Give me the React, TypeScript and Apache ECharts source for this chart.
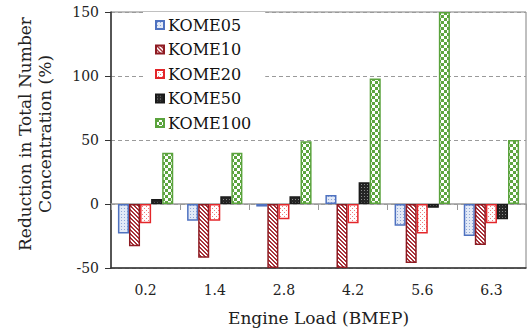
import React, { useEffect, useRef } from "react";
import * as echarts from "echarts";

const categories = ["0.2", "1.4", "2.8", "4.2", "5.6", "6.3"];
const seriesNames = ["KOME05", "KOME10", "KOME20", "KOME50", "KOME100"];
const kome05 = [-23, -13, -2, 7, -17, -25];
const kome10 = [-33, -42, -50, -50, -46, -32];
const kome20 = [-15, -13, -12, -15, -23, -15];
const kome50 = [4, 6, 6, 17, -3, -12];
const kome100 = [40, 40, 49, 98, 150, 50];
const yTicks = { min: -50, max: 150, interval: 50 };

const FONT = "DejaVu Serif";

function mk(w: number, h: number, draw: (ctx: CanvasRenderingContext2D) => void) {
  const c = document.createElement("canvas");
  c.width = w;
  c.height = h;
  const ctx = c.getContext("2d") as CanvasRenderingContext2D;
  draw(ctx);
  return { image: c.toDataURL(), repeat: "repeat", imageWidth: w, imageHeight: h };
}

function patterns() {
  const p05 = mk(3, 3, (ctx) => {
    ctx.fillStyle = "#e3eaf7";
    ctx.fillRect(0, 0, 3, 3);
    ctx.fillStyle = "#8fa7d8";
    ctx.fillRect(1, 1, 1, 1);
  });
  const p10 = mk(4, 4, (ctx) => {
    ctx.fillStyle = "#ffffff";
    ctx.fillRect(0, 0, 4, 4);
    ctx.fillStyle = "#a8323a";
    for (let y = 0; y < 4; y++) {
      for (let x = 0; x < 4; x++) {
        const d = (((x - y) % 4) + 4) % 4;
        if (d === 0 || d === 1) ctx.fillRect(x, y, 1, 1);
      }
    }
  });
  const p20 = mk(4, 4, (ctx) => {
    ctx.fillStyle = "#ffffff";
    ctx.fillRect(0, 0, 4, 4);
    ctx.fillStyle = "#ef7a7a";
    ctx.fillRect(0, 0, 1, 1);
    ctx.fillRect(2, 2, 1, 1);
  });
  const p50 = mk(3, 3, (ctx) => {
    ctx.fillStyle = "#262626";
    ctx.fillRect(0, 0, 3, 3);
    ctx.fillStyle = "#8c8c8c";
    ctx.fillRect(1, 1, 1, 1);
  });
  const p100 = mk(6, 6, (ctx) => {
    ctx.fillStyle = "#ffffff";
    ctx.fillRect(0, 0, 6, 6);
    ctx.fillStyle = "#5da53f";
    ctx.fillRect(0, 0, 3, 3);
    ctx.fillRect(3, 3, 3, 3);
  });
  return [p05, p10, p20, p50, p100];
}

const borderColors = ["#4f72c0", "#8e1b22", "#e3262a", "#1a1a1a", "#5aa33c"];

export default function App() {
  const ref = useRef<HTMLDivElement>(null);
  useEffect(() => {
    if (!ref.current) return;
    const chart = echarts.init(ref.current, undefined, { renderer: "svg" });
    const pats = patterns();
    const dataSets = [kome05, kome10, kome20, kome50, kome100];
    const series = seriesNames.map((name, i) => ({
      name,
      type: "bar",
      xAxisIndex: 0,
      data: dataSets[i],
      barGap: "0%",
      barCategoryGap: "20%",
      itemStyle: {
        color: pats[i] as any,
        borderColor: borderColors[i],
        borderWidth: 1.5,
      },
      z: 3,
    }));
    chart.setOption({
      animation: false,
      backgroundColor: "#ffffff",
      textStyle: { fontFamily: FONT },
      grid: {
        left: 111,
        right: 3,
        top: 12,
        bottom: 63,
        show: true,
        borderColor: "#808080",
        borderWidth: 1,
        containLabel: false,
        outerBoundsMode: "none",
      },
      legend: {
        orient: "vertical",
        left: 143,
        top: 12,
        padding: [5, 14, 5, 12],
        backgroundColor: "#ffffff",
        itemWidth: 8,
        itemHeight: 8,
        itemGap: 8.5,
        icon: "rect",
        data: seriesNames,
        textStyle: { fontFamily: FONT, fontSize: 16, color: "#111", padding: [0, 0, 0, -1] },
      },
      xAxis: [
        {
          type: "category",
          data: categories,
          position: "bottom",
          axisLine: { show: true, onZero: false, lineStyle: { color: "#333", width: 1.5 } },
          axisTick: { show: false },
          axisLabel: { fontFamily: FONT, fontSize: 14, color: "#222", margin: 15 },
          name: "Engine Load (BMEP)",
          nameLocation: "middle",
          nameGap: 41,
          nameTextStyle: { fontFamily: FONT, fontSize: 17, color: "#222" },
        },
        {
          type: "category",
          data: categories,
          position: "top",
          axisLine: { show: true, onZero: true, lineStyle: { color: "#9a9a9a", width: 1.5 } },
          axisTick: { show: true, inside: true, length: 6, lineStyle: { color: "#9a9a9a" } },
          axisLabel: { show: false },
          splitLine: { show: false },
        },
      ],
      yAxis: {
        type: "value",
        min: yTicks.min,
        max: yTicks.max,
        interval: yTicks.interval,
        axisLine: { show: true, lineStyle: { color: "#333", width: 1.5 } },
        axisTick: { show: true, length: 6, lineStyle: { color: "#333" } },
        axisLabel: { fontFamily: FONT, fontSize: 14, color: "#222", margin: 12 },
        splitLine: { show: true, lineStyle: { color: "#9a9a9a", type: [4, 3], width: 1 } },
      },
      graphic: [
        {
          type: "text",
          x: 35,
          y: 134,
          rotation: Math.PI / 2,
          style: {
            text: "Reduction in Total Number\nConcentration (%)",
            fontFamily: FONT,
            fontSize: 17,
            lineHeight: 20,
            fill: "#222",
            textAlign: "center",
            textVerticalAlign: "middle",
          },
        },
      ],
      series,
    } as any);
    return () => chart.dispose();
  }, []);
  return (
    <div
      ref={ref}
      style={{ position: "fixed", left: 0, top: 0, width: 529, height: 331 }}
    />
  );
}
